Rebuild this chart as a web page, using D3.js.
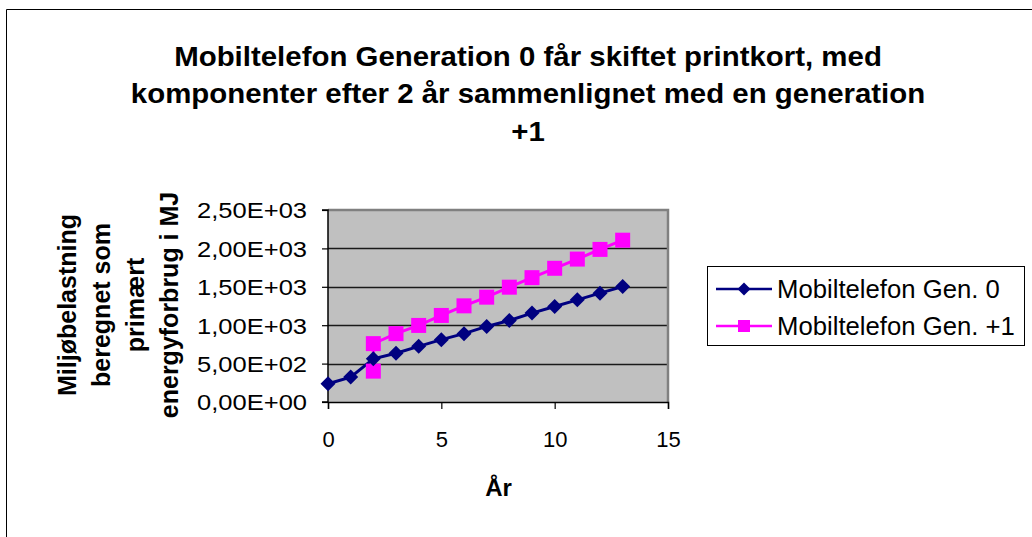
<!DOCTYPE html>
<html>
<head>
<meta charset="utf-8">
<script src="https://cdn.jsdelivr.net/npm/d3@7"></script>
<style>
  html, body { margin: 0; padding: 0; background: #fff; }
  svg { display: block; font-family: "Liberation Sans", Arial, sans-serif; }
</style>
</head>
<body>
<svg id="chart" width="1032" height="537"></svg>
<script>
// Years and cumulative primary energy (MJ) for each phone generation
const yearsGen0 = [0, 1, 2, 3, 4, 5, 6, 7, 8, 9, 10, 11, 12, 13];
const valuesGen0 = [238, 324, 562, 635, 725, 812, 890, 984, 1062, 1158, 1243, 1330, 1417, 1503];
const yearsGen1 = [2, 2, 3, 4, 5, 6, 7, 8, 9, 10, 11, 12, 13];
const valuesGen1 = [402, 760, 890, 997, 1127, 1252, 1365, 1495, 1619, 1741, 1861, 1987, 2107];

const seriesNames = ["Mobiltelefon Gen. 0", "Mobiltelefon Gen. +1"];
const seriesColors = ["#000080", "#FF00FF"];
const xTicks = [0, 5, 10, 15];
const yTicks = [0, 500, 1000, 1500, 2000, 2500];
const titleLines = [
  "Mobiltelefon Generation 0 får skiftet printkort, med",
  "komponenter efter 2 år sammenlignet med en generation",
  "+1"
];
const yTitleLines = ["Miljøbelastning", "beregnet som", "primært", "energyforbrug i MJ"];
const xTitle = "År";

const svg = d3.select("#chart");

// Outer chart frame (runs off the right and bottom edges)
svg.append("path")
  .attr("d", "M6.5,537 L6.5,9.5 L1032,9.5")
  .attr("fill", "none").attr("stroke", "#000").attr("stroke-width", 1);

// Plot geometry
const plot = { left: 328, right: 668, top: 210, bottom: 402 };
const x = d3.scaleLinear().domain([0, 15]).range([plot.left, plot.right]);
const y = d3.scaleLinear().domain([0, 2500]).range([plot.bottom, plot.top]);

// Plot area background
svg.append("rect")
  .attr("x", plot.left).attr("y", plot.top)
  .attr("width", plot.right - plot.left).attr("height", plot.bottom - plot.top)
  .attr("fill", "#C0C0C0");

// Horizontal gridlines
svg.append("g").selectAll("line")
  .data(yTicks.filter(v => v > 0 && v < 2500))
  .join("line")
  .attr("x1", plot.left).attr("x2", plot.right)
  .attr("y1", d => Math.round(y(d)) + 0.5).attr("y2", d => Math.round(y(d)) + 0.5)
  .attr("stroke", "#1a1a1a").attr("stroke-width", 1.3);

// Grey border on top and right of plot area
svg.append("path")
  .attr("d", `M${plot.left},${plot.top} L${plot.right},${plot.top} L${plot.right},${plot.bottom}`)
  .attr("fill", "none").attr("stroke", "#808080").attr("stroke-width", 2.5);

// Axes
const fmtSci = v => {
  const s = v === 0 ? "0.00e+0" : v.toExponential(2);
  const [m, e] = s.split("e");
  const ev = parseInt(e, 10);
  const es = (ev < 0 ? "-" : "+") + String(Math.abs(ev)).padStart(2, "0");
  return m.replace(".", ",") + "E" + es;
};

const yAxis = svg.append("g")
  .attr("transform", `translate(${plot.left},0)`)
  .call(d3.axisLeft(y).tickValues(yTicks).tickSize(6).tickPadding(12).tickFormat(fmtSci));
const xAxis = svg.append("g")
  .attr("transform", `translate(0,${plot.bottom})`)
  .call(d3.axisBottom(x).tickValues(xTicks).tickSize(7).tickPadding(22).tickFormat(d3.format("d")));

[yAxis, xAxis].forEach(ax => {
  ax.select(".domain").attr("stroke", "#000").attr("stroke-width", 1.5);
  ax.selectAll(".tick line").attr("stroke", "#000").attr("stroke-width", 1.2);
  ax.selectAll(".tick text").attr("fill", "#000").attr("font-family", "Liberation Sans, Arial, sans-serif");
});
yAxis.select(".domain").attr("d", `M-6,${plot.top}H0V${plot.bottom}H-6`);
// y labels are slightly wide: scale horizontally about the label's right edge
yAxis.selectAll(".tick text")
  .attr("font-size", 22).attr("dy", "0.36em")
  .attr("x", null)
  .attr("transform", "translate(-21,0) scale(1.16,1)");
xAxis.selectAll(".tick text").attr("font-size", 22);

// Series lines and markers
const line = d3.line().x(d => x(d[0])).y(d => y(d[1]));
const gen0 = yearsGen0.map((yr, i) => [yr, valuesGen0[i]]);
const gen1 = yearsGen1.map((yr, i) => [yr, valuesGen1[i]]);

svg.append("path").datum(gen0).attr("d", line)
  .attr("fill", "none").attr("stroke", seriesColors[0]).attr("stroke-width", 3);
svg.append("path").datum(gen1).attr("d", line)
  .attr("fill", "none").attr("stroke", seriesColors[1]).attr("stroke-width", 3);

const diamond = r => `M0,${-r} L${r},0 L0,${r} L${-r},0 Z`;

svg.append("g").selectAll("path").data(gen1).join("path")
  .attr("transform", d => `translate(${x(d[0])},${y(d[1])})`)
  .attr("d", "M-7.5,-7.5 H7.5 V7.5 H-7.5 Z")
  .attr("fill", seriesColors[1]);
svg.append("g").selectAll("path").data(gen0).join("path")
  .attr("transform", d => `translate(${x(d[0])},${y(d[1])})`)
  .attr("d", diamond(7.5))
  .attr("fill", seriesColors[0]);

// Title
svg.append("text")
  .attr("transform", "translate(528,0) scale(1.07,1)")
  .attr("text-anchor", "middle")
  .attr("font-size", 27.5).attr("font-weight", "bold").attr("fill", "#000")
  .selectAll("tspan").data(titleLines).join("tspan")
  .attr("x", 0).attr("y", (d, i) => 66 + i * 37.5)
  .text(d => d);

// Y axis title (rotated, multi-line)
svg.append("g").selectAll("text").data(yTitleLines).join("text")
  .attr("transform", (d, i) => `translate(${76 + i * 34},305) rotate(-90)`)
  .attr("text-anchor", "middle")
  .attr("font-size", 25).attr("font-weight", "bold").attr("fill", "#000")
  .text(d => d);

// X axis title
svg.append("text")
  .attr("x", (plot.left + plot.right) / 2 + 0.5).attr("y", 496)
  .attr("text-anchor", "middle")
  .attr("font-size", 24).attr("font-weight", "bold").attr("fill", "#000")
  .text(xTitle);

// Legend
const legend = svg.append("g");
legend.append("rect")
  .attr("x", 707.5).attr("y", 266.5).attr("width", 317).attr("height", 79)
  .attr("fill", "#fff").attr("stroke", "#000").attr("stroke-width", 1);

const rows = legend.selectAll("g.row").data(seriesNames).join("g")
  .attr("class", "row")
  .attr("transform", (d, i) => `translate(0,${i === 0 ? 289 : 326})`);
rows.append("line")
  .attr("x1", 716).attr("x2", 772).attr("y1", 0).attr("y2", 0)
  .attr("stroke", (d, i) => seriesColors[i]).attr("stroke-width", 2.5);
rows.append("path")
  .attr("transform", "translate(744,0)")
  .attr("d", (d, i) => i === 0 ? diamond(6.5) : "M-6,-6 H6 V6 H-6 Z")
  .attr("fill", (d, i) => seriesColors[i]);
rows.append("text")
  .attr("x", 777).attr("y", 0).attr("dy", "0.36em")
  .attr("font-size", 25.7).attr("fill", "#000")
  .text(d => d);
</script>
</body>
</html>
